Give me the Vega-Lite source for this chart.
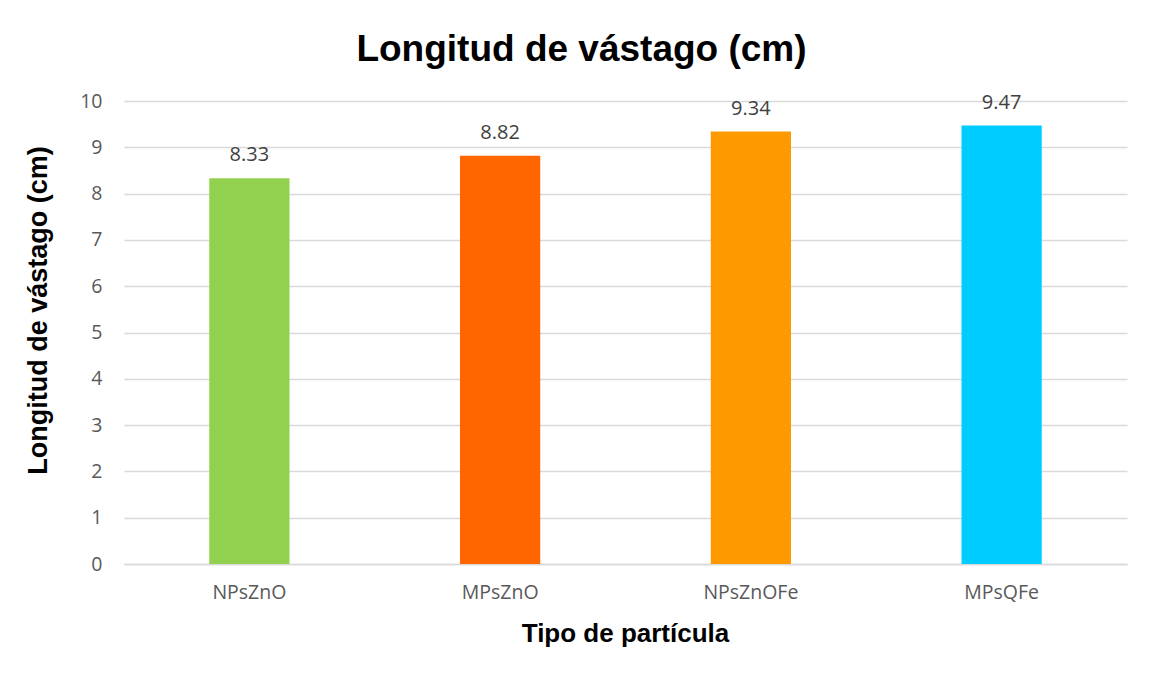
{
  "$schema": "https://vega.github.io/schema/vega-lite/v6.json",
  "autosize": {"type": "none"},
  "padding": {"left": 124, "top": 101, "right": 23, "bottom": 112},
  "width": 1003,
  "height": 463,
  "background": "white",
  "title": {
    "text": "Longitud de vástago (cm)",
    "font": "Liberation Sans",
    "fontSize": 37,
    "fontWeight": "bold",
    "color": "#000000",
    "anchor": "middle",
    "frame": "group",
    "dx": -44,
    "baseline": "alphabetic",
    "offset": -7
  },
  "data": {
    "values": [
      {"tipo": "NPsZnO", "valor": 8.33, "color": "#92D050"},
      {"tipo": "MPsZnO", "valor": 8.82, "color": "#FF6600"},
      {"tipo": "NPsZnOFe", "valor": 9.34, "color": "#FF9900"},
      {"tipo": "MPsQFe", "valor": 9.47, "color": "#00CCFF"}
    ]
  },
  "encoding": {
    "x": {
      "field": "tipo",
      "type": "nominal",
      "sort": null,
      "scale": {"paddingInner": 0.68, "paddingOuter": 0.34},
      "axis": {
        "title": "Tipo de partícula",
        "titleFont": "Liberation Sans",
        "titleFontSize": 26,
        "titleFontWeight": "bold",
        "titleColor": "#000000",
        "titleX": 501,
        "titleY": 69,
        "titleBaseline": "middle",
        "labelAngle": 0,
        "labelFont": "Open Sans",
        "labelFontSize": 19.5,
        "labelColor": "#595959",
        "labelPadding": 19,
        "ticks": false,
        "domainColor": "#d9d9d9",
        "domainWidth": 1.5,
        "grid": false
      }
    },
    "y": {
      "field": "valor",
      "type": "quantitative",
      "scale": {"domain": [0, 10], "nice": false},
      "axis": {
        "title": "Longitud de vástago (cm)",
        "titleFont": "Liberation Sans",
        "titleFontSize": 27,
        "titleFontWeight": "bold",
        "titleColor": "#000000",
        "titleX": -86,
        "titleY": 209,
        "titleAlign": "center",
        "titleBaseline": "middle",
        "values": [0, 1, 2, 3, 4, 5, 6, 7, 8, 9, 10],
        "labelFont": "Open Sans",
        "labelFontSize": 19.5,
        "labelColor": "#595959",
        "labelPadding": 22,
        "ticks": false,
        "domain": false,
        "grid": true,
        "gridColor": "#d9d9d9",
        "gridWidth": 1.5
      }
    }
  },
  "layer": [
    {
      "mark": {"type": "bar"},
      "encoding": {
        "color": {"field": "color", "type": "nominal", "scale": null}
      }
    },
    {
      "mark": {
        "type": "text",
        "baseline": "bottom",
        "dy": -13,
        "font": "Open Sans",
        "fontSize": 20,
        "color": "#404040"
      },
      "encoding": {
        "text": {"field": "valor", "type": "quantitative", "format": ".2f"}
      }
    }
  ],
  "config": {"view": {"stroke": null}}
}
